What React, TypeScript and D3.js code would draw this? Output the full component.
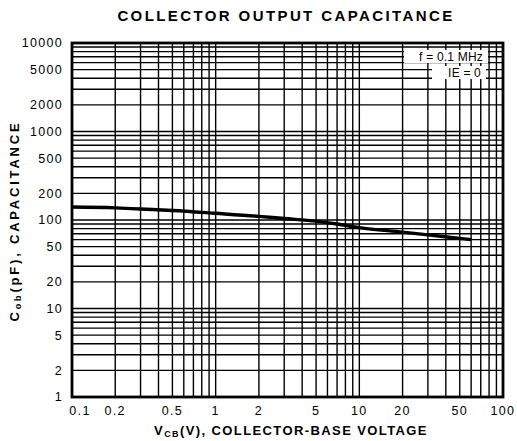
import React from "react";
import * as d3 from "d3";

const voltage = [0.1, 0.2, 0.3, 0.5, 1, 2, 3, 5, 7, 10, 20, 30, 50, 60];
const capacitance = [140, 137, 133, 128, 119, 110, 104, 97, 90, 82, 73, 68, 62, 60];
const xTicks = [0.1, 0.2, 0.5, 1, 2, 5, 10, 20, 50, 100];
const xTickLabels = ["0.1", "0.2", "0.5", "1", "2", "5", "10", "20", "50", "100"];
const yTicks = [10000, 5000, 2000, 1000, 500, 200, 100, 50, 20, 10, 5, 2, 1];
const yTickLabels = ["10000", "5000", "2000", "1000", "500", "200", "100", "50", "20", "10", "5", "2", "1"];
const title = "COLLECTOR OUTPUT CAPACITANCE";
const legendLines = ["f = 0.1 MHz", "IE = 0"];

export default function App() {
  const W = 517, H = 441;
  const left = 72, right = 503, top = 43, bottom = 397;
  const x = d3.scaleLog().domain([0.1, 100]).range([left, right]);
  const y = d3.scaleLog().domain([1, 10000]).range([bottom, top]);

  const xGrid: number[] = [];
  for (let e = -1; e < 2; e++) for (let m = 1; m < 10; m++) xGrid.push(m * Math.pow(10, e));
  xGrid.push(100);
  const yGrid: number[] = [];
  for (let e = 0; e < 4; e++) for (let m = 1; m < 10; m++) yGrid.push(m * Math.pow(10, e));
  yGrid.push(10000);

  const line = d3.line<number>().x((_, i) => x(voltage[i])).y((d) => y(d)).curve(d3.curveMonotoneX);
  const font = "'Liberation Sans', Arial, sans-serif";

  return (
    <svg width={W} height={H} style={{ position: "absolute", left: 0, top: 0, background: "#fff" }} fontFamily={font}>
      <rect x={0} y={0} width={W} height={H} fill="#fff" />
      <text x={286} y={21} textAnchor="middle" fontSize={15} fontWeight="bold" letterSpacing={2.4}>{title}</text>
      {yGrid.map((v, i) => (
        <line key={"y" + i} x1={left} x2={right} y1={y(v)} y2={y(v)} stroke="#000" strokeWidth={1.4} />
      ))}
      {xGrid.map((v, i) => (
        <line key={"x" + i} x1={x(v)} x2={x(v)} y1={top} y2={bottom} stroke="#000" strokeWidth={1.4} />
      ))}
      <rect x={404} y={50} width={84} height={13} fill="#fff" />
      <rect x={432} y={66} width={54} height={13} fill="#fff" />
      <text x={483} y={61} textAnchor="end" fontSize={12} letterSpacing={0.2}>{legendLines[0]}</text>
      <text x={481} y={77} textAnchor="end" fontSize={12} letterSpacing={0.2}>{legendLines[1]}</text>
      <path d={line(capacitance) || ""} fill="none" stroke="#000" strokeWidth={3.4} />
      <rect x={left} y={top} width={right - left} height={bottom - top} fill="none" stroke="#000" strokeWidth={2.8} />
      {yTicks.map((v, i) => (
        <text key={"yl" + i} x={63} y={y(v)} dy="0.35em" textAnchor="end" fontSize={12.5} letterSpacing={1.3}>{yTickLabels[i]}</text>
      ))}
      {xTicks.map((v, i) => (
        <text key={"xl" + i} x={i === 0 ? x(v) + 8 : x(v)} y={415} textAnchor="middle" fontSize={12.5} letterSpacing={1.3}>{xTickLabels[i]}</text>
      ))}
      <text x={291} y={435} textAnchor="middle" fontSize={13} fontWeight="bold" letterSpacing={1.4}>
        V<tspan fontSize={9} dy={2}>CB</tspan><tspan dy={-2}>(V), COLLECTOR-BASE VOLTAGE</tspan>
      </text>
      <text transform="translate(19,221) rotate(-90)" textAnchor="middle" fontSize={13} fontWeight="bold" letterSpacing={2.8}>
        C<tspan fontSize={9} dy={2}>ob</tspan><tspan dy={-2}>(pF), CAPACITANCE</tspan>
      </text>
    </svg>
  );
}
